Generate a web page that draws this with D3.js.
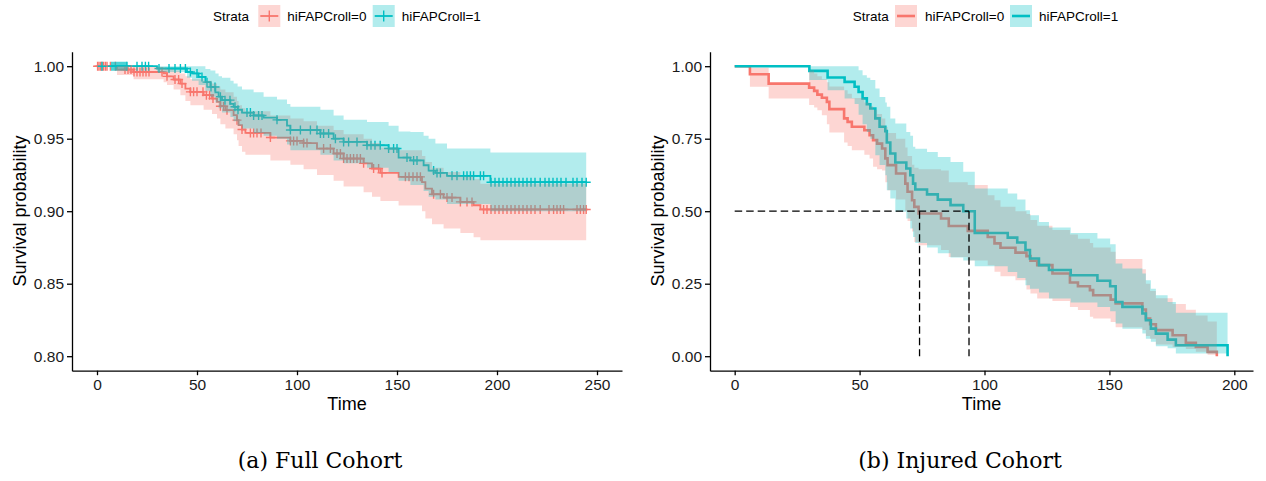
<!DOCTYPE html>
<html><head><meta charset="utf-8">
<script src="https://cdn.jsdelivr.net/npm/d3@7"></script>
<style>body{margin:0;background:#fff} svg{display:block}</style>
</head><body>
<svg id="chart" width="1266" height="481"></svg>
<script>
// ---------- DATA ----------
const strata = ["hiFAPCroll=0", "hiFAPCroll=1"];
const captions = ["(a) Full Cohort", "(b) Injured Cohort"];

// Panel (a) Full cohort, stratum 0
const fullTime0  = [0,10,18.3,33.3,35,38.3,41.7,44.2,46.7,53.3,57.5,60,61.7,64.2,68.3,70,70.8,72.5,74.2,86.7,96.7,103.3,110,118.3,123.3,133.3,137.5,141.7,150.8,162.5,164.2,167.5,173.3,181.7,188.3,191.7];
const fullSurv0  = [1,0.9977,0.996,0.995,0.993,0.9908,0.988,0.9846,0.9823,0.980,0.9777,0.9754,0.9724,0.9697,0.9662,0.9628,0.9593,0.9563,0.954,0.9508,0.9485,0.947,0.9432,0.9398,0.9363,0.933,0.9294,0.9264,0.9237,0.920,0.9156,0.9117,0.9094,0.9064,0.9041,0.9012];
const fullUpper0 = [1,1,0.9995,0.999,0.998,0.997,0.995,0.993,0.991,0.99,0.988,0.986,0.984,0.982,0.979,0.976,0.973,0.971,0.969,0.966,0.964,0.962,0.959,0.956,0.953,0.95,0.947,0.944,0.942,0.938,0.934,0.93,0.927,0.924,0.922,0.919];
const fullLower0 = [1,0.994,0.991,0.989,0.987,0.984,0.98,0.976,0.973,0.97,0.967,0.964,0.96,0.957,0.953,0.949,0.945,0.941,0.939,0.935,0.932,0.929,0.925,0.921,0.917,0.913,0.91,0.907,0.904,0.9,0.895,0.891,0.888,0.885,0.882,0.88];
const fullCensor0 = [0.3,1,1.8,2.5,3.3,4.2,5,6.7,9.2,14,15.5,17,18.5,20,21.5,23,24.5,26,32.5,35,39,40.8,42.5,46.7,48.3,50,53,54.7,56.3,58,61.7,63.3,65,70,72.5,76.7,78.3,80,82,86.7,96.7,98.3,100,103.3,105,113.3,116.7,120,121.7,123.3,125,126.7,128.3,130,131.7,133.3,138.3,140.8,142.5,154.2,156,158,160,161.7,168.3,171.7,175,177.5,181.7,185,187.5,193.3,195,197,199,201,203,205,207,209,211,213,215,217,219,221.6,226,228.3,230,231.7,233.3,240,241.7,243.3,244.6];
// Panel (a) Full cohort, stratum 1
const fullTime1  = [0,30,45,47.5,50.8,54.2,56.7,59.2,60.8,62.5,66.7,68.3,70.3,72.5,78.3,83.3,90,95,96.7,111.7,118.3,123.3,135,145.8,150.8,156.7,163.3,165.8,169.2,175,196.7];
const fullSurv1  = [1,0.9984,0.996,0.995,0.9926,0.989,0.9857,0.982,0.979,0.9766,0.974,0.972,0.970,0.968,0.966,0.9646,0.963,0.959,0.956,0.9536,0.950,0.9478,0.9455,0.9432,0.937,0.935,0.9317,0.928,0.9264,0.9244,0.920];
const fullUpper1 = [1,1,1,1,1,0.998,0.997,0.995,0.993,0.992,0.99,0.988,0.986,0.984,0.982,0.979,0.977,0.974,0.972,0.97,0.966,0.963,0.9616,0.959,0.955,0.9547,0.952,0.95,0.9467,0.9432,0.9405];
const fullLower1 = [1,0.996,0.992,0.99,0.987,0.983,0.979,0.975,0.971,0.968,0.965,0.962,0.959,0.957,0.954,0.952,0.950,0.946,0.942,0.939,0.935,0.933,0.93,0.927,0.921,0.918,0.914,0.91,0.908,0.905,0.90];
const fullCensor1 = [2.5,7.5,8.5,9.5,10.5,11.5,12.5,13.5,14.5,15,20,22.5,24.2,25.8,31,36,39,41.7,44.2,46.7,50,52.5,55,57,59,61.7,64,66.5,69,70.5,75,76.7,78.3,80.8,82.5,90,96.7,101.7,106.7,110,111.7,113.3,115.8,119.2,123.3,125.8,130,135,137,139,141.6,145.8,148.3,150,155,158.3,160,168.3,170,171.7,177.5,180,183.3,185,186.7,188.3,191.7,193.3,197,199,201,203,205,207,209,211,213,215,217,219,221.6,224,226,228,230,232,234.5,238,240,242.5,244.6];
const fullEnd = 244.6;

// Panel (b) Injured cohort, stratum 0
const injTime0  = [0,6.1,13.6,29.8,31.8,33.1,34.9,36.9,37.9,43.8,45.2,46.9,51.9,54,55.4,57,59,60.3,61.2,64.6,68.3,69.2,71,71.9,73.6,82.6,85.7,93.3,101.3,104,106.4,112.4,116.8,118.4,121.1,127.2,134.2,137.4,142.2,143.5,150.5,152.5,163.2,164.6,166.3,168.6,175.3,180.6,184.6,189.3,193];
const injSurv0  = [1,0.972,0.94,0.926,0.915,0.902,0.891,0.877,0.852,0.82,0.808,0.791,0.779,0.762,0.745,0.733,0.716,0.682,0.659,0.630,0.595,0.567,0.538,0.515,0.492,0.475,0.449,0.432,0.411,0.389,0.374,0.357,0.345,0.329,0.314,0.285,0.254,0.241,0.228,0.210,0.195,0.182,0.161,0.130,0.110,0.090,0.072,0.046,0.032,0.015,0];
const injUpper0 = [1,0.995,0.94,0.985,0.975,0.965,0.955,0.945,0.93,0.917,0.905,0.89,0.875,0.862,0.85,0.835,0.82,0.79,0.77,0.75,0.72,0.69,0.66,0.65,0.645,0.64,0.60,0.59,0.555,0.538,0.515,0.50,0.49,0.47,0.45,0.435,0.42,0.405,0.39,0.375,0.36,0.335,0.30,0.25,0.225,0.20,0.18,0.16,0.14,0.12,0];
const injLower0 = [1,0.929,0.889,0.866,0.858,0.848,0.831,0.80,0.771,0.737,0.725,0.71,0.695,0.682,0.653,0.645,0.64,0.60,0.572,0.54,0.50,0.466,0.43,0.394,0.383,0.366,0.342,0.33,0.314,0.291,0.276,0.262,0.23,0.216,0.199,0.19,0.17,0.159,0.136,0.13,0.118,0.10,0.09,0.07,0.06,0.04,0.032,0.025,0.015,0.005,0];
// Panel (b) Injured cohort, stratum 1
const injTime1  = [0,29.9,37.2,44,48,49.6,51.2,52.9,54.3,56.3,58,60.3,60.9,62.3,64.3,68.7,70.3,71.4,72.3,77,81.3,86.4,91.5,96.1,109.3,113.1,116.4,118.2,121.8,125.8,134.5,145.2,150.3,152.5,155.2,163.2,164.6,166.6,168.6,173.3,176.6,197.3];
const injSurv1  = [1,0.984,0.961,0.946,0.929,0.911,0.889,0.869,0.854,0.82,0.791,0.776,0.737,0.699,0.668,0.647,0.624,0.595,0.575,0.558,0.540,0.521,0.5,0.425,0.409,0.392,0.366,0.337,0.314,0.297,0.279,0.26,0.241,0.187,0.17,0.147,0.124,0.095,0.078,0.057,0.038,0];
const injUpper1 = [1,1,1,1,1,0.986,0.969,0.96,0.952,0.923,0.894,0.875,0.86,0.82,0.802,0.773,0.76,0.722,0.715,0.704,0.687,0.670,0.636,0.578,0.561,0.540,0.503,0.486,0.463,0.444,0.425,0.406,0.386,0.320,0.302,0.285,0.262,0.233,0.210,0.187,0.15,0];
const injLower1 = [1,0.952,0.917,0.889,0.87,0.833,0.80,0.773,0.75,0.693,0.659,0.624,0.572,0.544,0.498,0.475,0.44,0.411,0.39,0.375,0.355,0.34,0.33,0.31,0.29,0.27,0.245,0.233,0.22,0.199,0.185,0.17,0.155,0.113,0.095,0.078,0.06,0.05,0.034,0.027,0.009,0];
const injMedians = [74, 93.8];

// tick labels
const fullXTicks = [0,50,100,150,200,250];
const fullYTicks = [0.80,0.85,0.90,0.95,1.00];
const injXTicks  = [0,50,100,150,200];
const injYTicks  = [0.00,0.25,0.50,0.75,1.00];

// ---------- DRAW ----------
const COL = ['#F8766D', '#00BFC4'];
const svg = d3.select('#chart');
const FONT = "'Liberation Sans', Arial, Helvetica, sans-serif";

function stepVal(times, vals, t) {
  let v = vals[0];
  for (let i = 0; i < times.length; i++) { if (times[i] <= t) v = vals[i]; else break; }
  return v;
}

function panel(cfg) {
  const g = svg.append('g');
  const x = d3.scaleLinear().domain(cfg.xDomain).range(cfg.xRange);
  const y = d3.scaleLinear().domain(cfg.yDomain).range([370.7, 51.7]);

  const line = d3.line().curve(d3.curveStepAfter).x(d => x(d[0])).y(d => y(d[1]));
  const area = d3.area().curve(d3.curveStepAfter).x(d => x(d[0])).y0(d => y(d[2])).y1(d => y(d[3]));

  const rows = cfg.series.map(s => {
    const r = s.t.map((ti, i) => [ti, s.s[i], s.lo[i], s.up[i]]);
    const last = r[r.length - 1];
    if (s.end > last[0]) r.push([s.end, last[1], last[2], last[3]]);
    return r;
  });

  // lines
  cfg.series.forEach((s, k) => {
    g.append('path').attr('d', line(rows[k])).attr('fill', 'none')
      .attr('stroke', COL[k]).attr('stroke-width', cfg.lw);
  });
  // censor marks
  cfg.series.forEach((s, k) => {
    if (!s.censor) return;
    const m = 4.5;
    g.append('g').selectAll('path').data(s.censor).join('path')
      .attr('d', c => {
        const cx = x(c), cy = y(stepVal(s.t, s.s, c));
        return `M${cx - m},${cy}H${cx + m}M${cx},${cy - m}V${cy + m}`;
      })
      .attr('stroke', COL[k]).attr('stroke-width', 1.4).attr('fill', 'none');
  });
  // ribbons
  cfg.series.forEach((s, k) => {
    g.append('path').attr('d', area(rows[k])).attr('fill', COL[k]).attr('fill-opacity', 0.3);
  });

  // median lines
  if (cfg.medians) {
    const dash = { stroke: '#000', 'stroke-width': 1.3, 'stroke-dasharray': '7.5,4', fill: 'none' };
    const hl = g.append('line').attr('x1', x(0)).attr('x2', x(d3.max(cfg.medians))).attr('y1', y(0.5)).attr('y2', y(0.5));
    Object.entries(dash).forEach(([a, v]) => hl.attr(a, v));
    cfg.medians.forEach(m => {
      const vl = g.append('line').attr('x1', x(m)).attr('x2', x(m)).attr('y1', y(0.5)).attr('y2', y(0));
      Object.entries(dash).forEach(([a, v]) => vl.attr(a, v));
    });
  }

  // axes
  const ax = g.append('g').attr('transform', 'translate(0,370.7)')
    .call(d3.axisBottom(x).tickValues(cfg.xTicks).tickSize(4.5).tickSizeOuter(0).tickPadding(3.5).tickFormat(d3.format('d')));
  const ay = g.append('g').attr('transform', `translate(${cfg.xRange[0]},0)`)
    .call(d3.axisLeft(y).tickValues(cfg.yTicks).tickSize(5).tickSizeOuter(0).tickPadding(3).tickFormat(d3.format('.2f')));
  [ax, ay].forEach(a => {
    a.selectAll('path.domain').attr('stroke', '#000').attr('stroke-width', 1.3);
    a.selectAll('.tick line').attr('stroke', '#000').attr('stroke-width', 1.3);
    a.selectAll('.tick text').attr('fill', '#1a1a1a').style('font-family', FONT).style('font-size', '15.5px');
  });

  // axis titles
  g.append('text').attr('x', (cfg.xRange[0] + cfg.xRange[1]) / 2).attr('y', 410)
    .attr('text-anchor', 'middle').style('font-family', FONT).style('font-size', '18px').attr('fill', '#000').text('Time');
  g.append('text').attr('transform', `translate(${cfg.yTitleX},211) rotate(-90)`)
    .attr('text-anchor', 'middle').style('font-family', FONT).style('font-size', '18px').attr('fill', '#000').text('Survival probability');

  // legend
  const L = cfg.legend;
  g.append('text').attr('x', L.title).attr('y', 16).attr('dy', '0.35em').style('font-family', FONT)
    .style('font-size', '13.5px').attr('fill', '#000').text('Strata');
  strata.forEach((name, k) => {
    const bx = L.boxes[k], by = 5, bs = 22;
    g.append('rect').attr('x', bx).attr('y', by).attr('width', bs).attr('height', bs)
      .attr('fill', COL[k]).attr('fill-opacity', 0.3);
    g.append('line').attr('x1', bx + 2).attr('x2', bx + bs - 2).attr('y1', by + bs / 2).attr('y2', by + bs / 2)
      .attr('stroke', COL[k]).attr('stroke-width', cfg.lw);
    if (cfg.legendCross) {
      g.append('line').attr('x1', bx + bs / 2).attr('x2', bx + bs / 2).attr('y1', by + bs / 2 - 5.5).attr('y2', by + bs / 2 + 5.5)
        .attr('stroke', COL[k]).attr('stroke-width', 1.4);
    }
    g.append('text').attr('x', L.texts[k]).attr('y', 16).attr('dy', '0.35em').style('font-family', FONT)
      .style('font-size', '13.5px').attr('fill', '#000').text(name);
  });

  // caption
  g.append('text').attr('x', cfg.capX).attr('y', 468).attr('text-anchor', 'middle')
    .style('font-family', "'DejaVu Serif', 'Liberation Serif', serif").style('font-size', '22px')
    .attr('fill', '#000').text(cfg.caption);
}

panel({
  xDomain: [-12.5, 262.5], xRange: [72, 622], yDomain: [0.79, 1.01],
  xTicks: fullXTicks, yTicks: fullYTicks, lw: 1.8, yTitleX: 25.5,
  series: [
    { t: fullTime0, s: fullSurv0, up: fullUpper0, lo: fullLower0, end: fullEnd, censor: fullCensor0 },
    { t: fullTime1, s: fullSurv1, up: fullUpper1, lo: fullLower1, end: fullEnd, censor: fullCensor1 }
  ],
  legend: { title: 213, boxes: [258.3, 372.7], texts: [287.3, 401.7] }, legendCross: true,
  caption: captions[0], capX: 320
});

panel({
  xDomain: [-9.88, 207.48], xRange: [710, 1253], yDomain: [-0.05, 1.05],
  xTicks: injXTicks, yTicks: injYTicks, lw: 2.6, yTitleX: 663.5,
  series: [
    { t: injTime0, s: injSurv0, up: injUpper0, lo: injLower0, end: 193 },
    { t: injTime1, s: injSurv1, up: injUpper1, lo: injLower1, end: 197.3 }
  ],
  medians: injMedians,
  legend: { title: 852.7, boxes: [895, 1010], texts: [925, 1039] }, legendCross: false,
  caption: captions[1], capX: 960
});
</script>
</body></html>
